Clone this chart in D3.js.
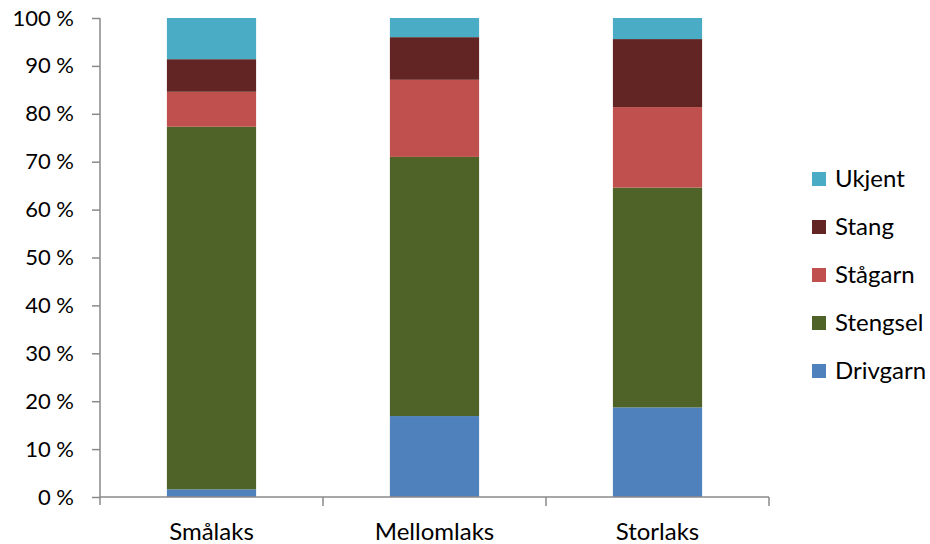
<!DOCTYPE html>
<html>
<head>
<meta charset="utf-8">
<script src="https://cdn.jsdelivr.net/npm/d3@7"></script>
<style>
  html, body { margin: 0; padding: 0; background: #fff; }
  svg text { font-family: Lato, "Open Sans", sans-serif; fill: #000; }
</style>
</head>
<body>
<svg id="chart" width="930" height="544"></svg>
<script>
// Catch by gear type, share of each size group (percent)
const categories = ["Smålaks", "Mellomlaks", "Storlaks"];
const seriesNames = ["Drivgarn", "Stengsel", "Stågarn", "Stang", "Ukjent"];
const drivgarn = [1.6, 16.9, 18.7];
const stengsel = [75.7, 54.1, 45.9];
const stagarn  = [7.3, 16.1, 16.8];
const stang    = [6.8, 8.9, 14.2];
const ukjent   = [8.6, 4.0, 4.4];
const yTicks = [0, 10, 20, 30, 40, 50, 60, 70, 80, 90, 100];
const colors = ["#4F81BD", "#4F6228", "#C0504D", "#632523", "#4BACC6"];

(function () {
  const seriesValues = [drivgarn, stengsel, stagarn, stang, ukjent];
  const rows = categories.map((c, i) => {
    const r = { category: c };
    seriesNames.forEach((s, j) => { r[s] = seriesValues[j][i]; });
    return r;
  });

  const svg = d3.select("#chart");
  const plotLeft = 100, plotRight = 769, plotTop = 18, plotBottom = 497;

  const x = d3.scaleBand().domain(categories).range([plotLeft, plotRight]).paddingInner(0).paddingOuter(0);
  const y = d3.scaleLinear().domain([0, 100]).range([plotBottom, plotTop]);
  const color = d3.scaleOrdinal().domain(seriesNames).range(colors);

  const layers = d3.stack().keys(seriesNames)(rows);
  const barW = x.bandwidth() * 0.4;

  svg.append("g").selectAll("g")
    .data(layers)
    .join("g")
    .attr("fill", d => color(d.key))
    .selectAll("rect")
    .data(d => d)
    .join("rect")
    .attr("x", d => x(d.data.category) + (x.bandwidth() - barW) / 2)
    .attr("width", barW)
    .attr("y", d => y(d[1]))
    .attr("height", d => y(d[0]) - y(d[1]));

  const axisColor = "#8a8a8a";

  // Y axis
  const yAxis = svg.append("g")
    .attr("transform", `translate(${plotLeft},0)`)
    .call(d3.axisLeft(y).tickValues(yTicks).tickSize(8).tickPadding(18).tickFormat(d => d + " %"));
  yAxis.select(".domain").remove();
  yAxis.append("line").attr("x1", 0).attr("x2", 0).attr("y1", plotTop).attr("y2", plotBottom + 8)
    .attr("stroke", axisColor).attr("stroke-width", 1.5);
  yAxis.selectAll(".tick line").attr("stroke", axisColor).attr("stroke-width", 1.5);
  yAxis.selectAll(".tick text").attr("font-size", 22).attr("fill", "#000")
    .style("font-family", "Lato, sans-serif");

  // X axis with ticks on category boundaries
  const xAxis = svg.append("g").attr("transform", `translate(0,${plotBottom})`);
  xAxis.append("line").attr("x1", plotLeft).attr("x2", plotRight).attr("y1", 0).attr("y2", 0)
    .attr("stroke", axisColor).attr("stroke-width", 1.5);
  const boundaries = categories.map(c => x(c) + x.bandwidth());
  xAxis.selectAll("line.bt").data(boundaries).join("line")
    .attr("class", "bt")
    .attr("x1", d => d).attr("x2", d => d).attr("y1", 0).attr("y2", 9)
    .attr("stroke", axisColor).attr("stroke-width", 1.5);
  xAxis.selectAll("text").data(categories).join("text")
    .attr("x", d => x(d) + x.bandwidth() / 2)
    .attr("y", 43)
    .attr("text-anchor", "middle")
    .attr("font-size", 24)
    .text(d => d);

  // Legend, top entry = last series
  const legend = svg.append("g");
  seriesNames.slice().reverse().forEach((name, i) => {
    const by = 187 + i * 48;
    legend.append("rect").attr("x", 812).attr("y", by - 15).attr("width", 14).attr("height", 14)
      .attr("fill", color(name));
    legend.append("text").attr("x", 835).attr("y", by).attr("font-size", 24).text(name);
  });
})();
</script>
</body>
</html>
